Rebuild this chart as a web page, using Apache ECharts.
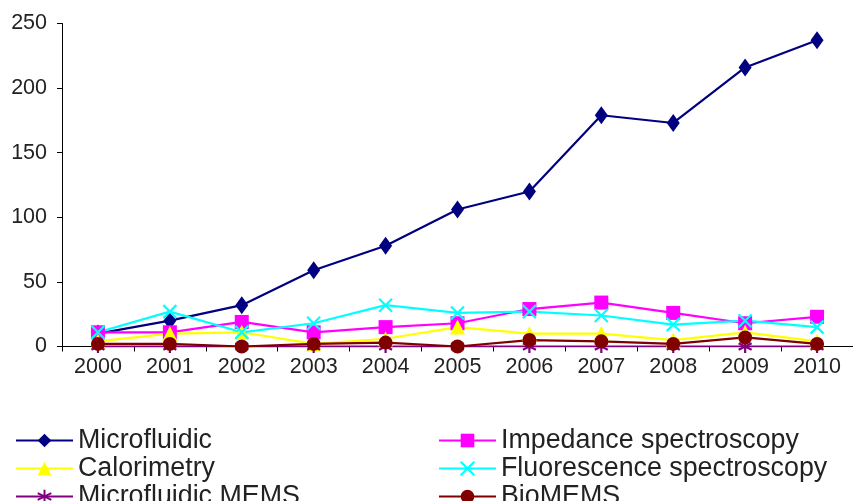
<!DOCTYPE html>
<html>
<head>
<meta charset="utf-8">
<script src="https://cdn.jsdelivr.net/npm/echarts@6/dist/echarts.min.js"></script>
<style>
  html, body { margin: 0; padding: 0; background: #fff; }
  #chart { width: 853px; height: 501px; }
</style>
</head>
<body>
<div id="chart"></div>
<script>
// Publication counts per year, by research topic
const years = ['2000', '2001', '2002', '2003', '2004', '2005', '2006', '2007', '2008', '2009', '2010'];
const microfluidic = [10, 20, 32, 59, 78, 106, 120, 179, 173, 216, 237];
const impedance = [11, 11, 19, 11, 15, 18, 29, 34, 26, 18, 23];
const calorimetry = [4, 10, 11, 2, 6, 15, 10, 10, 5, 11, 4];
const fluorescence = [11, 27, 11, 18, 32, 26, 27, 24, 17, 20, 15];
const microfluidicMems = [0, 0, 0, 0, 0, 0, 0, 0, 0, 0, 0];
const bioMems = [2, 2, 0, 2, 3, 0, 5, 4, 2, 7, 2];
const yTicks = { min: 0, max: 250, interval: 50 };

const FONT = 'Liberation Sans, Arial, sans-serif';
const crossPath = 'path://M0,0L10,10M10,0L0,10';
const starPath = 'path://M5,0L5,10M0.7,2.5L9.3,7.5M0.7,7.5L9.3,2.5';

function lineSeries(name, data, color, symbol, size, strokeOnly) {
  const s = {
    name: name,
    type: 'line',
    data: data,
    symbol: symbol,
    symbolSize: size,
    showAllSymbol: true,
    color: color,
    lineStyle: { color: color, width: 2.2 },
    itemStyle: { color: color, opacity: 1 },
    emphasis: { disabled: true },
    animation: false
  };
  if (strokeOnly) {
    s.itemStyle = { color: color, borderColor: color, borderWidth: 2.2 };
  }
  return s;
}

const chart = echarts.init(document.getElementById('chart'), null, { renderer: 'canvas' });

const legendCommon = {
  orient: 'vertical',
  top: 427,
  height: 120,
  padding: 0,
  itemWidth: 57,
  itemHeight: 17,
  itemGap: 1,
  textStyle: { fontFamily: FONT, fontSize: 26.8, color: '#222' }
};

chart.setOption({
  backgroundColor: '#fff',
  grid: { left: 62, top: 23.5, width: 798, height: 323 },
  xAxis: {
    type: 'category',
    data: years,
    boundaryGap: true,
    axisLine: { lineStyle: { color: '#000', width: 1 } },
    axisTick: { show: true, length: 5, lineStyle: { color: '#000' } },
    axisLabel: { fontFamily: FONT, fontSize: 21.5, color: '#222', margin: 10 },
    splitLine: { show: false }
  },
  yAxis: {
    type: 'value',
    min: yTicks.min,
    max: yTicks.max,
    interval: yTicks.interval,
    axisLine: { show: true, lineStyle: { color: '#000', width: 1 } },
    axisTick: { show: true, length: 5, lineStyle: { color: '#000' } },
    axisLabel: { fontFamily: FONT, fontSize: 21.5, color: '#222', margin: 15 },
    splitLine: { show: false }
  },
  legend: [
    Object.assign({ left: 15, data: ['Microfluidic', 'Calorimetry', 'Microfluidic MEMS'] }, legendCommon),
    Object.assign({ left: 438, data: ['Impedance spectroscopy', 'Fluorescence spectroscopy', 'BioMEMS'] }, legendCommon)
  ],
  series: [
    lineSeries('Microfluidic', microfluidic, '#000080', 'diamond', [13, 18]),
    lineSeries('Impedance spectroscopy', impedance, '#FF00FF', 'rect', 14),
    lineSeries('Calorimetry', calorimetry, '#FFFF00', 'triangle', 15),
    lineSeries('Fluorescence spectroscopy', fluorescence, '#00FFFF', crossPath, 13, true),
    lineSeries('Microfluidic MEMS', microfluidicMems, '#800080', starPath, 13, true),
    lineSeries('BioMEMS', bioMems, '#800000', 'circle', 14)
  ]
});
</script>
</body>
</html>
